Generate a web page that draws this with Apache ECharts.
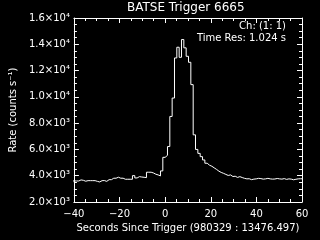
<!DOCTYPE html>
<html>
<head>
<meta charset="utf-8">
<script src="https://cdn.jsdelivr.net/npm/echarts@6/dist/echarts.min.js"></script>
<style>
html,body{margin:0;padding:0;background:#000;}
#c{width:320px;height:240px;}
</style>
</head>
<body>
<div id="c"></div>
<script>
// Data (rate in counts/s per 1.024 s bin)
const titleText = 'BATSE Trigger 6665';
const xName = 'Seconds Since Trigger (980329 : 13476.497)';
const yName = 'Rate (counts s\u207B\u00B9)';
const infoLines = ['Ch: (1: 1)', 'Time Res: 1.024 s'];
const binWidth = 1.024;
const firstBinIndex = -40; // first bin starts at -40 * 1.024 s
const rates = [
  3600, 3600, 3600, 3680, 3650, 3580, 3625, 3625, 3625, 3625,
  3570, 3525, 3625, 3630, 3570, 3700, 3700, 3810, 3810, 3885,
  3810, 3810, 3730, 3730, 3730, 3730, 4005, 3830, 3930, 3900,
  3880, 3855, 4265, 4265, 4210, 4115, 4060, 3985, 4365, 5400,
  5550, 6220, 8510, 9910, 12960, 13775, 13010, 14360, 13730, 13085,
  12630, 10930, 7110, 6000, 5700, 5450, 5200, 4950, 4800, 4720,
  4600, 4480, 4350, 4250, 4180, 4100, 4020, 4060, 3940, 3960,
  3870, 3930, 3860, 3800, 3760, 3770, 3700, 3740, 3760, 3800,
  3780, 3740, 3760, 3800, 3760, 3740, 3750, 3790, 3760, 3740,
  3780, 3720, 3760, 3740, 3690, 3730, 3760, 3770, 3760
];
const xMin = -40, xMax = 60, xStep = 20;
const yMin = 2000, yMax = 16000, yStep = 2000;

const supMap = {'0':'\u2070','1':'\u00B9','2':'\u00B2','3':'\u00B3','4':'\u2074','5':'\u2075','6':'\u2076','7':'\u2077','8':'\u2078','9':'\u2079'};
function sciLabel(v) {
  const e = Math.floor(Math.log10(v) + 1e-9);
  const m = v / Math.pow(10, e);
  return m.toFixed(1) + '\u00D710' + String(e).split('').map(c => supMap[c]).join('');
}

const seriesData = rates.map((r, i) => [(firstBinIndex + i) * binWidth, r]);
seriesData.push([(firstBinIndex + rates.length) * binWidth, rates[rates.length - 1]]);

const FONT = 'DejaVu Sans';
const W = '#ffffff';
const gridL = 72, gridR = 18, gridT = 18, gridB = 38;

function xAx(pos, showLabel) {
  return {
    type: 'value', position: pos, min: xMin, max: xMax, interval: xStep,
    axisLine: {show: true, onZero: false, lineStyle: {color: W, width: 1}},
    axisTick: {show: true, inside: true, length: 5, lineStyle: {color: W, width: 1}},
    minorTick: {show: true, splitNumber: 4, length: 3, lineStyle: {color: W, width: 1}},
    splitLine: {show: false},
    axisLabel: {show: showLabel, color: W, fontFamily: FONT, fontSize: 10, margin: 7,
      formatter: v => String(v).replace('-', '\u2212')},
    name: showLabel ? xName : '', nameLocation: 'middle', nameGap: 18,
    nameTextStyle: {color: W, fontFamily: FONT, fontSize: 10}
  };
}
function yAx(pos, showLabel) {
  return {
    type: 'value', position: pos, min: yMin, max: yMax, interval: yStep,
    axisLine: {show: true, onZero: false, lineStyle: {color: W, width: 1}},
    axisTick: {show: true, inside: true, length: 5, lineStyle: {color: W, width: 1}},
    minorTick: {show: true, splitNumber: 4, length: 3, lineStyle: {color: W, width: 1}},
    splitLine: {show: false},
    axisLabel: {show: showLabel, color: W, fontFamily: FONT, fontSize: 10, margin: 4,
      formatter: v => sciLabel(v)},
    name: showLabel ? yName : '', nameLocation: 'middle', nameGap: 50,
    nameTextStyle: {color: W, fontFamily: FONT, fontSize: 10}
  };
}

const chart = echarts.init(document.getElementById('c'), null, {renderer: 'canvas'});
chart.setOption({
  backgroundColor: '#000000',
  animation: false,
  grid: {left: gridL, right: gridR, top: gridT, bottom: gridB, containLabel: false},
  xAxis: [xAx('bottom', true), xAx('top', false)],
  yAxis: [yAx('left', true), yAx('right', false)],
  graphic: [
    {type: 'text', left: 187 - 60, top: 2, style: {text: titleText, fill: W, font: '12px "DejaVu Sans"', width: 120, align: 'center'}},
    {type: 'text', right: 320 - 286, top: 21, style: {text: infoLines[0], fill: W, font: '10px "DejaVu Sans"'}},
    {type: 'text', right: 320 - 286, top: 33, style: {text: infoLines[1], fill: W, font: '10px "DejaVu Sans"'}}
  ],
  series: [{
    type: 'line', xAxisIndex: 0, yAxisIndex: 0, step: 'end', symbol: 'none',
    data: seriesData, clip: true,
    lineStyle: {color: W, width: 1}
  }]
});
</script>
</body>
</html>
